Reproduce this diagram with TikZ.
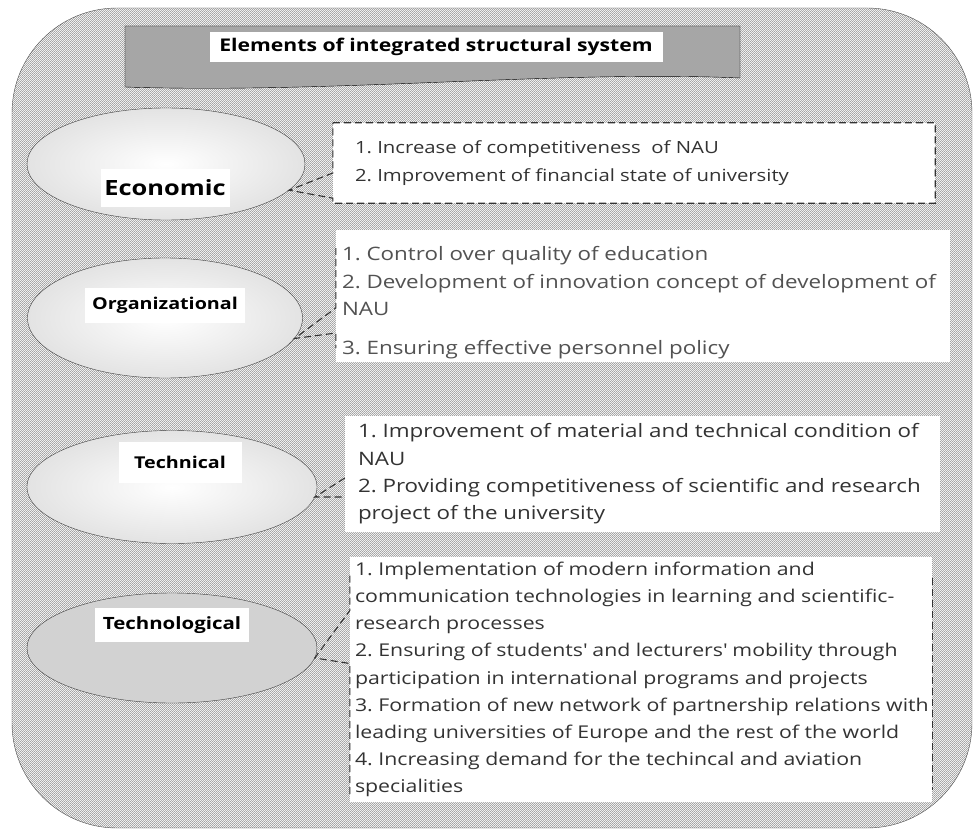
\documentclass[tikz,border=0pt]{standalone}
\usepackage{fontspec}
\setmainfont{Open Sans}[FakeStretch=1.21]
\usetikzlibrary{patterns,shapes.geometric}

\newcommand{\bodysize}{\fontsize{18.5}{27.3}\selectfont}
\newcommand{\labelsize}{\bfseries\fontsize{16.3}{20}\selectfont}

% fine checker of dots for the frame
\pgfdeclarepatternformonly{finedots}{\pgfpointorigin}{\pgfpoint{2.4pt}{2.4pt}}{\pgfpoint{2.4pt}{2.4pt}}{%
    \pgfpathrectangle{\pgfpoint{0pt}{0pt}}{\pgfpoint{0.9pt}{0.9pt}}
    \pgfpathrectangle{\pgfpoint{1.2pt}{1.2pt}}{\pgfpoint{0.9pt}{0.9pt}}
    \pgfusepath{fill}}

\tikzset{
    frame/.style={draw=black!70, preaction={fill=white}, pattern=finedots,
        pattern color=black!72, rounded corners=105pt},
    titlebar/.style={draw=black, fill=gray!70},
    titletext/.style={fill=white, inner sep=0pt, minimum width=453pt,
        minimum height=30pt, font=\bfseries\fontsize{17.5}{20}\selectfont},
    aspect/.style={ellipse, draw=black!75, inner sep=0pt, shading=radial,
        inner color=white, outer color=gray!22},
    aspectdark/.style={ellipse, draw=black!75, inner sep=0pt, fill=gray!35},
    aspectlabel/.style={fill=white, inner sep=0pt, font=\labelsize},
    listbox/.style={fill=white, inner sep=0pt},
    listtext/.style={anchor=west, align=left, inner sep=0pt, text=black!80, font=\bodysize},
    pointer/.style={draw=black!80, line width=1.1pt, dash pattern=on 7pt off 4pt}
}

\begin{document}
\frenchspacing
\begin{tikzpicture}[x=1pt, y=-1pt]
\useasboundingbox (0,0) rectangle (973,829);
% outer frame
\draw[frame] (12,8) rectangle (972,828);
% title bar
\draw[titlebar] (125,26) -- (740,26) -- (740,78) .. controls (560,70) and (330,94) .. (125,87) -- cycle;
\node[titletext] (title) at (436,47) {Elements of integrated structural system};

% ellipses and their labels
\node[aspect, minimum width=278pt, minimum height=112pt] (econ) at (166,164) {};
\node[aspectlabel, minimum width=129pt, minimum height=38pt,
    font=\bfseries\fontsize{21}{24}\selectfont] (econlabel) at (165,188) {Economic};
\node[aspect, minimum width=275pt, minimum height=120pt] (org) at (165,318) {};
\node[aspectlabel, minimum width=160pt, minimum height=35pt] (orglabel) at (165,305) {Organizational};
\node[aspect, minimum width=290pt, minimum height=113pt] (tech) at (172,487) {};
\node[aspectlabel, minimum width=123pt, minimum height=41pt] (techlabel) at (180,462) {Technical};
\node[aspectdark, minimum width=290pt, minimum height=110pt] (techno) at (172,648) {};
\node[aspectlabel, minimum width=154pt, minimum height=34pt,
    font=\bfseries\fontsize{16.9}{20}\selectfont] (technolabel) at (172,625) {Technological};

% list boxes
\node[listbox, minimum width=602pt, minimum height=80pt] (econbox) at (634,163) {};
\node[listtext, font=\fontsize{16.8}{27.5}\selectfont] (econtext) at ([xshift=22pt]econbox.west)
    {1. Increase of competitiveness\ \ of NAU\\
     2. Improvement of financial state of university};
\node[listbox, minimum width=614pt, minimum height=132pt] (orgbox) at (643,296) {};
\node[listtext, text=black!68] (orgtext) at ([xshift=6pt, yshift=-7pt]orgbox.west)
    {1. Control over quality of education\\
     2. Development of innovation concept of development of\\
     NAU\\[12pt]
     3. Ensuring effective personnel policy};
\node[listbox, minimum width=595pt, minimum height=116pt] (techbox) at (642.5,474) {};
\node[listtext] (techtext) at ([xshift=13pt]techbox.west)
    {1. Improvement of material and technical condition of\\
     NAU\\
     2. Providing competitiveness of scientific and research\\
     project of the university};
\node[listbox, minimum width=582pt, minimum height=245pt] (technobox) at (641,679.5) {};
\node[listtext, font=\fontsize{17.6}{27.2}\selectfont] (technotext) at ([xshift=5pt]technobox.west)
    {1. Implementation of modern information and\\
     communication technologies in learning and scientific-\\
     research processes\\
     2. Ensuring of students\textquotesingle{} and lecturers\textquotesingle{} mobility through\\
     participation in international programs and projects\\
     3. Formation of new network of partnership relations with\\
     leading universities of Europe and the rest of the world\\
     4. Increasing demand for the techincal and aviation\\
     specialities};

% dashed pointers
\draw[pointer] (econbox.north west) -- (econbox.north east) -- (econbox.south east)
    -- (econbox.south west) -- ([yshift=5pt]econbox.south west) -- (econ.-12)
    -- ([yshift=-10pt]econbox.west) -- cycle;
\draw[pointer] ([yshift=48pt]orgbox.west) -- ([yshift=-12pt]orgbox.west) -- (org.-9)
    -- ([yshift=-37pt]orgbox.west) -- ([yshift=-52pt]orgbox.west);
\draw[pointer] ([yshift=-4pt]techbox.west) -- (tech.-4) -- ([yshift=-23pt]techbox.west);
\draw[pointer] ([yshift=104pt]technobox.west) -- ([yshift=69pt]technobox.west) -- (techno.-4)
    -- ([yshift=16pt]technobox.west) -- ([yshift=-117pt]technobox.west);
\draw[pointer] ([yshift=102pt]technobox.east) -- ([yshift=-110pt]technobox.east);
\end{tikzpicture}
\end{document}
